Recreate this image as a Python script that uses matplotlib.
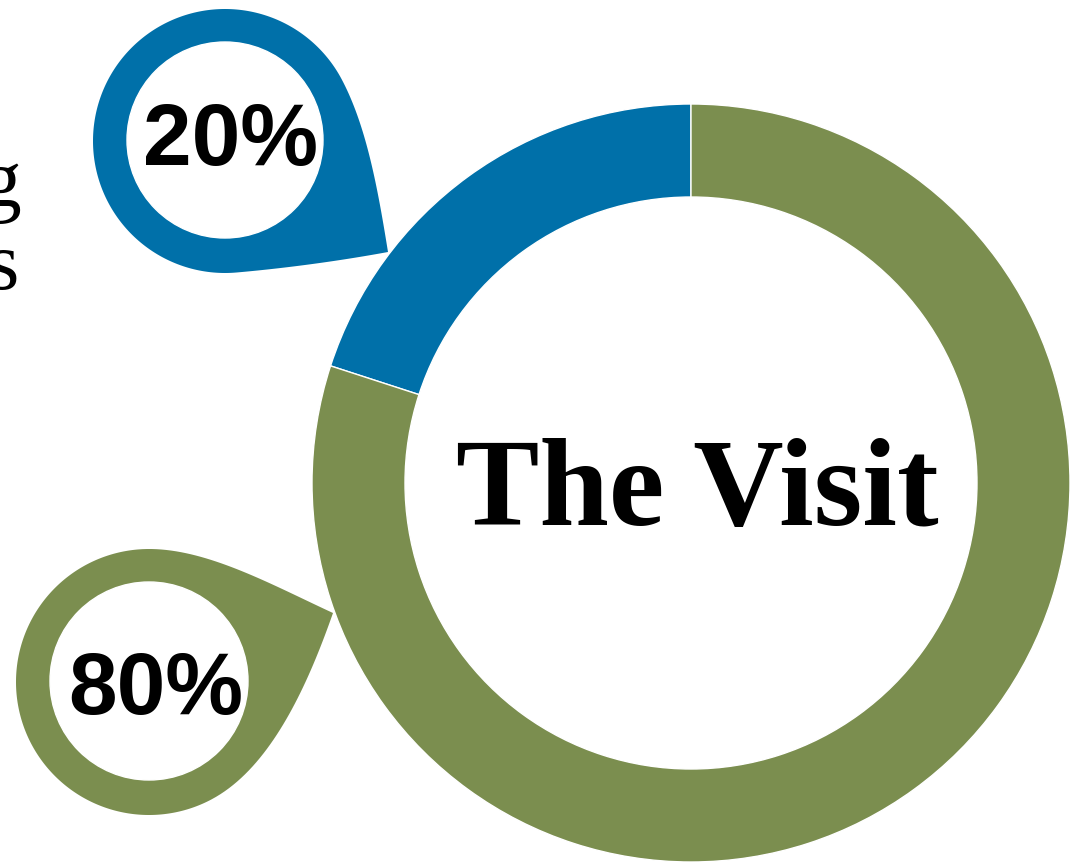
import numpy as np
import matplotlib
matplotlib.use('Agg')
import matplotlib.pyplot as plt

# data
labels = ['20%', '80%']
shares = [20, 80]
colors = ['#0070A9', '#7B8E4F']
title = 'The Visit'

W, H = 1078, 863
fig = plt.figure(figsize=(W / 100, H / 100), dpi=100)
ax = fig.add_axes([0, 0, 1, 1])

# donut
ax.pie(shares, colors=colors, startangle=90, counterclock=True,
       center=(691, H - 483), radius=379,
       wedgeprops=dict(width=93, edgecolor='white', linewidth=1))


def bez(p0, p1, p2, p3, n=40):
    t = np.linspace(0, 1, n)[:, None]
    return ((1 - t) ** 3 * p0 + 3 * (1 - t) ** 2 * t * p1
            + 3 * (1 - t) * t ** 2 * p2 + t ** 3 * p3)


def pin(cx, cy, R, r, tip, th_hi, th_lo, color, dir_lo, dir_hi,
        k_lo=0.4, k_hi=0.4, f_lo=0.35, f_hi=0.35):
    # teardrop callout: arc from th_hi ccw round to th_lo, then out to the tip and back
    c = np.array([cx, cy], float)
    tip = np.array(tip, float)
    if th_lo < th_hi:
        th_lo += 360
    a = np.radians(np.linspace(th_hi, th_lo, 200))
    arc = c + R * np.c_[np.cos(a), np.sin(a)]
    p_lo, p_hi = arc[-1], arc[0]
    tl = np.radians(th_lo)
    th = np.radians(th_hi)
    t_lo = np.array([-np.sin(tl), np.cos(tl)])
    t_hi = np.array([-np.sin(th), np.cos(th)])
    u_lo = np.array(dir_lo, float) / np.linalg.norm(dir_lo)
    u_hi = np.array(dir_hi, float) / np.linalg.norm(dir_hi)
    d1 = np.linalg.norm(tip - p_lo)
    d2 = np.linalg.norm(tip - p_hi)
    seg1 = bez(p_lo, p_lo + k_lo * d1 * t_lo, tip + f_lo * d1 * u_lo, tip)
    seg2 = bez(tip, tip + f_hi * d2 * u_hi, p_hi - k_hi * d2 * t_hi, p_hi)
    pts = np.vstack([arc, seg1, seg2])
    ax.fill(pts[:, 0], pts[:, 1], color=color, lw=0, zorder=3)
    ax.add_patch(plt.Circle((cx, cy + 1), r, color='white', zorder=4))


pin(225, H - 141, 132, 98, (388, H - 252), 28, -85, colors[0],
    dir_lo=(-0.98, -0.18), dir_hi=(-0.16, 0.99), k_lo=0.3, k_hi=0.3)
pin(149, H - 682, 133, 99, (333, H - 613), 95, -62, colors[1],
    dir_lo=(-0.33, -0.94), dir_hi=(-0.91, 0.42), k_lo=0.3, k_hi=0.3)

ax.text(231, H - 165, labels[0], ha='center', va='baseline', fontsize=63,
        fontweight='bold', family='Liberation Sans', zorder=5)
ax.text(156, H - 714, labels[1], ha='center', va='baseline', fontsize=63,
        fontweight='bold', family='Liberation Sans', zorder=5)

ax.text(697, H - 525, title, ha='center', va='baseline', fontsize=90,
        fontweight='bold', family='Liberation Serif', zorder=5)

# cut-off text at the left edge
ax.text(21, H - 206, 'g', ha='right', va='baseline', fontsize=60,
        family='Liberation Serif')
ax.text(19, H - 289, 's', ha='right', va='baseline', fontsize=60,
        family='Liberation Serif')

ax.set_xlim(0, W)
ax.set_ylim(0, H)
ax.set_aspect('equal')
ax.axis('off')

fig.savefig('out.png', dpi=100)
